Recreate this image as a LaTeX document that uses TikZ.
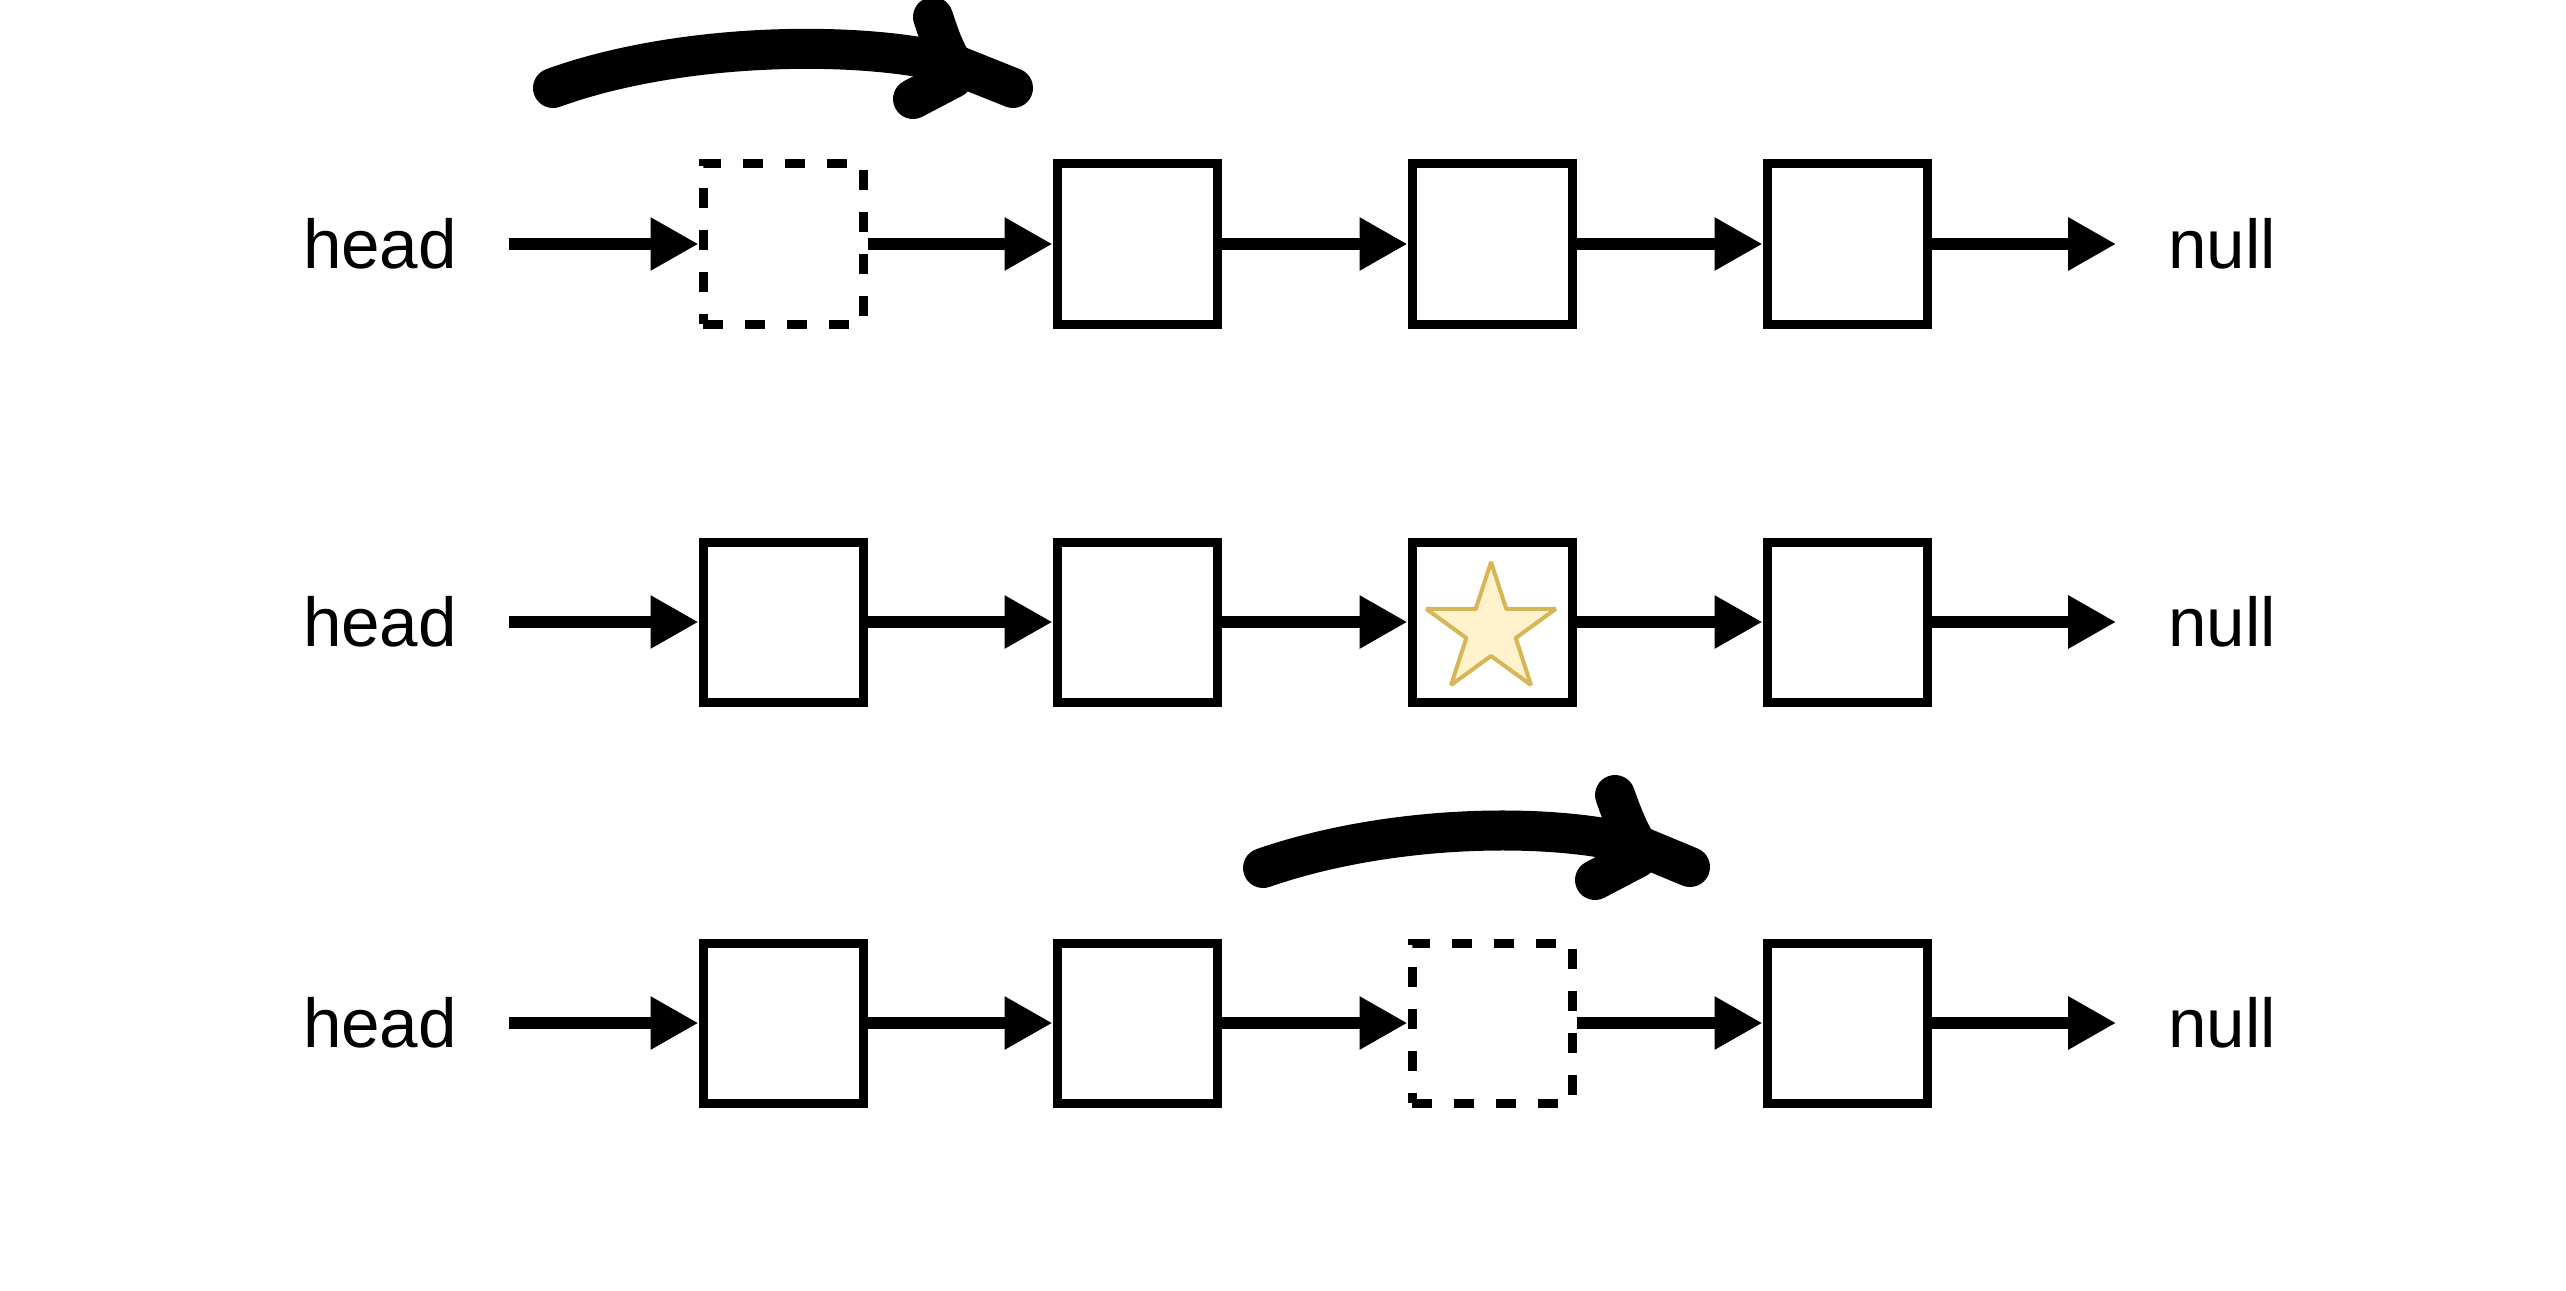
\documentclass[tikz,border=0pt]{standalone}
\usepackage{fontspec}
\setmainfont{Liberation Sans}
\usetikzlibrary{arrows.meta,shapes.geometric}
\definecolor{starfill}{HTML}{FFF2CC}
\definecolor{starline}{HTML}{D6B656}
\tikzset{
  cell/.style={draw,line width=2.25bp,line join=miter,minimum size=40bp,inner sep=0pt},
  ghost/.style={cell,dash pattern=on 5bp off 5.5bp},
  endtext/.style={inner sep=0pt,inner xsep=13bp,outer sep=0pt,font=\fontsize{17.3bp}{20bp}\selectfont},
  link/.style={-{Triangle[length=12bp,width=12.5bp]},line width=3bp},
  swoosh/.style={line width=10bp,line cap=round,line join=round},
}
\begin{document}
\begin{tikzpicture}[x=0.25bp,y=-0.25bp,line join=bevel]
\fill [white] (0,0) rectangle (2566,1290);
\useasboundingbox (0,0) rectangle (2566,1290);
%%
\node (head_0) at (380,244) [endtext] {head};
  \node (node_0_1) at (783,244) [ghost] {};
  \node (node_0_2) at (1137,244) [cell] {};
  \node (node_0_3) at (1492,244) [cell] {};
  \node (node_0_4) at (1847,244) [cell] {};
  \node (null_0) at (2222,244) [endtext] {null};
  \draw [link] (head_0) -- (node_0_1);
  \draw [link] (node_0_1) -- (node_0_2);
  \draw [link] (node_0_2) -- (node_0_3);
  \draw [link] (node_0_3) -- (node_0_4);
  \draw [link] (node_0_4) -- (null_0);
%%
\node (head_1) at (380,622) [endtext] {head};
  \node (node_1_1) at (783,622) [cell] {};
  \node (node_1_2) at (1137,622) [cell] {};
  \node (node_1_3) at (1492,622) [cell] {};
  \node (node_1_4) at (1847,622) [cell] {};
  \node (null_1) at (2222,622) [endtext] {null};
  \node (star_1) at (1491,630) [star,star points=5,star point ratio=2.618,minimum size=34bp,inner sep=0pt,draw=starline,fill=starfill,line width=1bp] {};
  \draw [link] (head_1) -- (node_1_1);
  \draw [link] (node_1_1) -- (node_1_2);
  \draw [link] (node_1_2) -- (node_1_3);
  \draw [link] (node_1_3) -- (node_1_4);
  \draw [link] (node_1_4) -- (null_1);
%%
\node (head_2) at (380,1023) [endtext] {head};
  \node (node_2_1) at (783,1023) [cell] {};
  \node (node_2_2) at (1137,1023) [cell] {};
  \node (node_2_3) at (1492,1023) [ghost] {};
  \node (node_2_4) at (1847,1023) [cell] {};
  \node (null_2) at (2222,1023) [endtext] {null};
  \draw [link] (head_2) -- (node_2_1);
  \draw [link] (node_2_1) -- (node_2_2);
  \draw [link] (node_2_2) -- (node_2_3);
  \draw [link] (node_2_3) -- (node_2_4);
  \draw [link] (node_2_4) -- (null_2);
%% hand drawn arrows
\draw [swoosh] (553,88) .. controls (680,42) and (860,40) .. (953,64) -- (1013,88);
  \draw [swoosh] (933,17) .. controls (940,38) and (945,52) .. (953,64);
  \draw [swoosh] (913,99) -- (953,78);
  \draw [swoosh] (1263,868) .. controls (1390,824) and (1550,822) .. (1637,845) -- (1690,867);
  \draw [swoosh] (1615,795) .. controls (1622,815) and (1628,830) .. (1637,845);
  \draw [swoosh] (1595,880) -- (1637,858);
%
\end{tikzpicture}
\end{document}
